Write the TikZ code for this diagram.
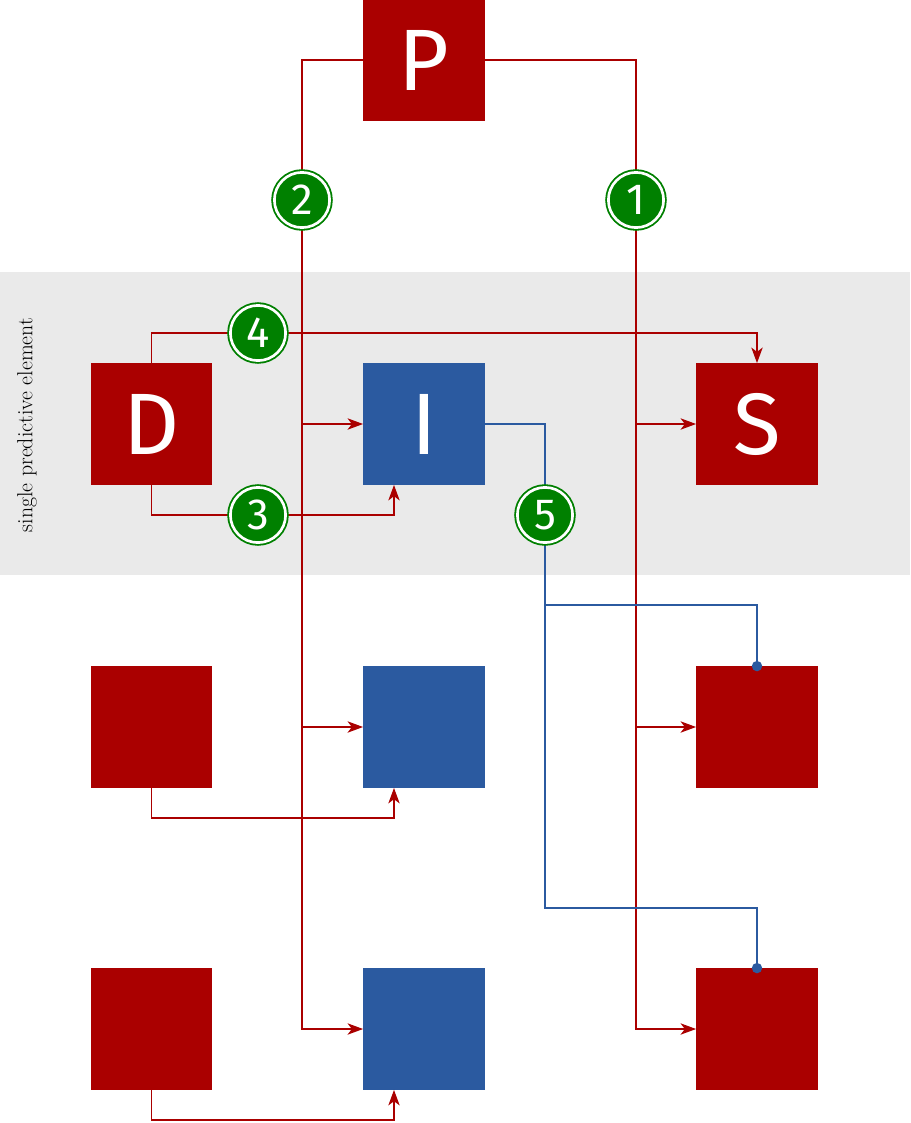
\documentclass[tikz,border=0pt]{standalone}
\usepackage{fontspec}
\newfontfamily\boxfont{Fira Sans}
\usetikzlibrary{arrows.meta,positioning}
\definecolor{elred}{RGB}{170,0,0}
\definecolor{elblue}{RGB}{43,90,160}
\definecolor{elgreen}{RGB}{0,128,0}
\definecolor{elgray}{RGB}{234,234,234}

\tikzset{
  redblock/.style={fill=elred, minimum size=3.03cm, inner sep=0pt, text=white, font=\boxfont\fontsize{62}{62}\selectfont},
  blueblock/.style={redblock, fill=elblue},
  flow/.style={draw=elred, line width=1.4pt, -{Stealth[length=11pt,width=8pt,inset=3pt]}},
  redline/.style={draw=elred, line width=1.4pt},
  blueline/.style={draw=elblue, line width=1.4pt},
  marker/.style={circle, fill=elgreen, draw=elgreen, double=white, double distance=1.9pt, line width=1.3pt,
    minimum size=1.38cm, inner sep=0pt, text=white, font=\boxfont\fontsize{31}{31}\selectfont}
}

\begin{document}
\begin{tikzpicture}[x=0.025cm, y=-0.025cm]
    \useasboundingbox (0,0) rectangle (910,1123);
    \fill[elgray] (0,272) rectangle (910,575);
    \node[rotate=90, font=\fontsize{15.5}{18}\selectfont] (lbl) at (27,425) {single predictive element};

    % blocks
    \node[redblock] (P) at (424,60) {P};
    \node[redblock] (D1) at (151.5,424) {D};
    \node[blueblock] (I1) at (424,424) {I};
    \node[redblock] (S1) at (757,424) {S};
    \foreach \r/\y in {2/727, 3/1029} {
      \node[redblock] (D\r) at (151.5,\y) {};
      \node[blueblock] (I\r) at (424,\y) {};
      \node[redblock] (S\r) at (757,\y) {};
    }

    % parameter busses
    \coordinate (lbus) at (302,60);
    \coordinate (rbus) at (636,60);
    \draw[flow] (P.west) -- (lbus) |- (I3.west);
    \draw[flow] (P.east) -- (rbus) |- (S3.west);
    \foreach \r in {1,2} {
      \draw[flow] (lbus |- I\r.west) -- (I\r.west);
      \draw[flow] (rbus |- S\r.west) -- (S\r.west);
    }

    % data to integration
    \draw[flow] (D1.north) -- ++(0,-30) -| (S1.north);
    \foreach \r in {1,2,3}
      \draw[flow] (D\r.south) -- ++(0,30) -| ([xshift=-0.75cm]I\r.south);

    % integration output
    \coordinate (bsplit) at (545,605);
    \coordinate (bbus) at (545,908);
    \draw[blueline] (I1.east) -| (bbus) -| (S3.north);
    \draw[blueline] (bsplit) -| (S2.north);
    \foreach \r in {2,3}
      \fill[elblue] (S\r.north) circle (0.13cm);

    % markers
    \node[marker] (m1) at (636,200) {1};
    \node[marker] (m2) at (302,200) {2};
    \node[marker] (m3) at (258,515) {3};
    \node[marker] (m4) at (258,333) {4};
    \node[marker] (m5) at (545,515) {5};
  \end{tikzpicture}
\end{document}
